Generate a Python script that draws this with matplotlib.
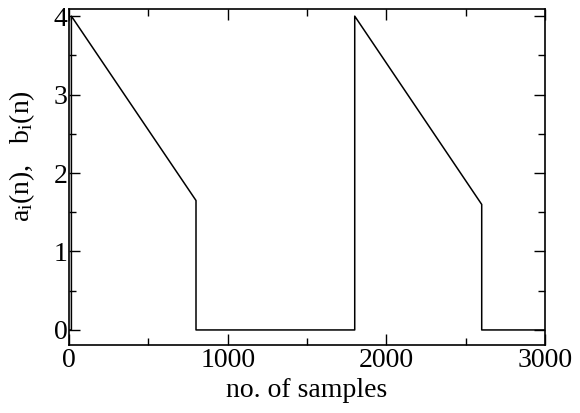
import matplotlib
matplotlib.use("Agg")
import matplotlib.pyplot as plt
from matplotlib.ticker import MultipleLocator

plt.rcParams['font.family'] = ['Liberation Serif', 'DejaVu Serif']
plt.rcParams['mathtext.fontset'] = 'custom'
plt.rcParams['mathtext.rm'] = 'Liberation Serif'
plt.rcParams['mathtext.it'] = 'Liberation Serif:italic'

# breakpoints of the coefficient sequence (sample index, value)
samples = [0, 15, 15, 800, 800, 1800, 1800, 2600, 2600, 3000]
values = [0.0, 0.0, 4.0, 1.65, 0.0, 0.0, 4.0, 1.6, 0.0, 0.0]

fig = plt.figure(figsize=(5.8, 4.13), dpi=100)
ax = fig.add_axes([0.119, 0.165, 0.821, 0.813])

ax.plot(samples, values, color='black', lw=1.1)

ax.set_xlim(0, 3000)
ax.set_ylim(-0.19, 4.09)
ax.xaxis.set_major_locator(MultipleLocator(1000))
ax.xaxis.set_minor_locator(MultipleLocator(500))
ax.yaxis.set_major_locator(MultipleLocator(1))
ax.yaxis.set_minor_locator(MultipleLocator(0.5))
ax.tick_params(which='both', direction='in', top=True, right=True,
               labelsize=20, width=1)
ax.tick_params(which='major', length=8)
ax.tick_params(which='minor', length=5)
ax.tick_params(axis='y', pad=1)
ax.tick_params(axis='x', pad=2)
for s in ax.spines.values():
    s.set_linewidth(1.2)

ax.set_xlabel('no. of samples', fontsize=20)
ax.set_ylabel(r'a$_\mathrm{i}$(n),   b$_\mathrm{i}$(n)', fontsize=20)
ax.xaxis.set_label_coords(0.5, -0.1)
ax.yaxis.set_label_coords(-0.068, 0.5625)

fig.savefig('out.png', dpi=100)
